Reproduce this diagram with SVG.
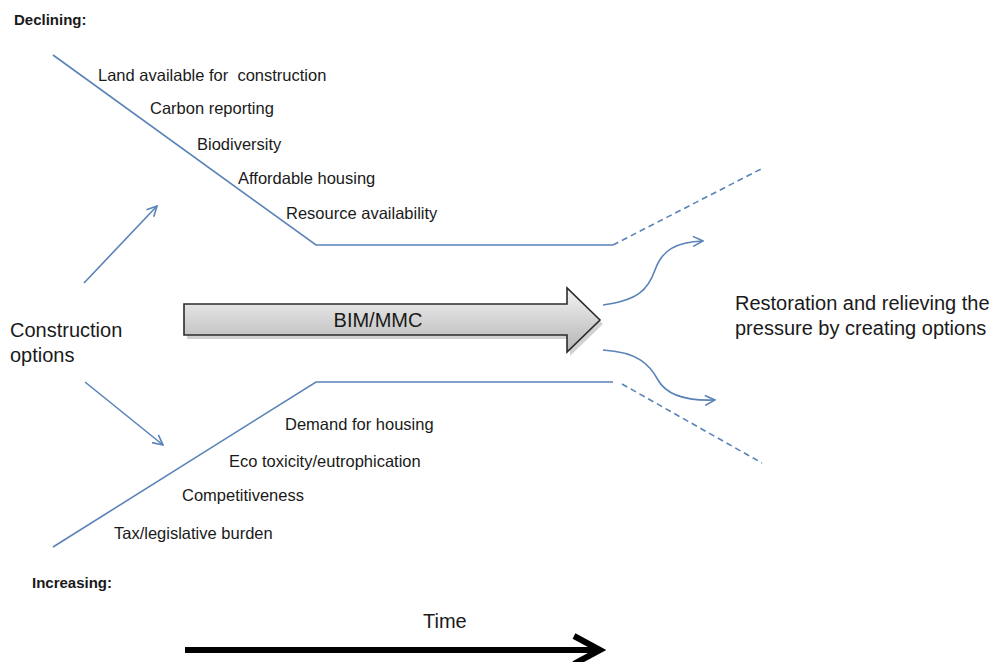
<svg xmlns="http://www.w3.org/2000/svg" width="994" height="662" viewBox="0 0 994 662">
<defs>
<style>
.t{font-family:"Liberation Sans",Arial,sans-serif;fill:#1a1a1a}
.s{font-size:16.5px}
.b{font-size:15px;font-weight:bold}
.l{font-size:20px}
.ln{fill:none;stroke:#5a83b8;stroke-width:1.6}
.dash{stroke-dasharray:6 4}
</style>
<linearGradient id="g" x1="0" y1="0" x2="0" y2="1">
<stop offset="0" stop-color="#f4f4f4"/>
<stop offset="1" stop-color="#b4b4b4"/>
</linearGradient>
<marker id="oa" viewBox="0 0 12 12" refX="11" refY="6" markerWidth="12" markerHeight="12" markerUnits="userSpaceOnUse" orient="auto">
<path d="M1,1 L11,6 L1,11" fill="none" stroke="#5a83b8" stroke-width="1.6"/>
</marker>
</defs>
<rect width="994" height="662" fill="#ffffff"/>

<g id="declining">
<text class="t b" x="14" y="25">Declining:</text>
</g>
<g id="increasing">
<text class="t b" x="32" y="588">Increasing:</text>
</g>

<g id="decline-labels">
<text class="t s" x="98" y="81" xml:space="preserve">Land available for  construction</text>
<text class="t s" x="150" y="114">Carbon reporting</text>
<text class="t s" x="197" y="150">Biodiversity</text>
<text class="t s" x="238" y="184">Affordable housing</text>
<text class="t s" x="286" y="219">Resource availability</text>
</g>

<g id="increase-labels">
<text class="t s" x="285" y="430">Demand for housing</text>
<text class="t s" x="229" y="467">Eco toxicity/eutrophication</text>
<text class="t s" x="182" y="501">Competitiveness</text>
<text class="t s" x="114" y="539">Tax/legislative burden</text>
</g>

<g id="construction-options">
<text class="t l" x="10" y="337">Construction</text>
<text class="t l" x="10" y="362">options</text>
</g>

<g id="restoration">
<text class="t l" x="735" y="310">Restoration and relieving the</text>
<text class="t l" x="735" y="335">pressure by creating options</text>
</g>

<g id="bim-mmc">
<polygon points="187,308 570,308 570,292 603,324 570,356 570,339 187,339" fill="#9a9a9a" opacity="0.45"/>
<polygon points="184,304 567,304 567,288 600,320 567,352 567,335 184,335" fill="url(#g)" stroke="#2b2b2b" stroke-width="1.6" stroke-linejoin="miter"/>
<text class="t l" x="378" y="327" text-anchor="middle">BIM/MMC</text>
</g>

<g id="time">
<text class="t l" x="423" y="628">Time</text>
<line x1="185" y1="650" x2="598" y2="650" stroke="#000" stroke-width="6"/>
<polyline points="574,636 600,650 574,664" fill="none" stroke="#000" stroke-width="6" stroke-linejoin="miter"/>
</g>

<g id="connectors">
<polyline class="ln" points="53,55 316,245 613,245"/>
<line class="ln dash" x1="613" y1="245" x2="761" y2="169"/>
<polyline class="ln" points="53,547 316,382 613,382"/>
<line class="ln dash" x1="622" y1="384" x2="762" y2="463"/>
<line class="ln" x1="84" y1="283" x2="157" y2="206" marker-end="url(#oa)"/>
<line class="ln" x1="85" y1="382" x2="163" y2="445" marker-end="url(#oa)"/>
<path class="ln" d="M603,305 C638,300 648,290 655,270 C662,250 676,242 703,241" marker-end="url(#oa)"/>
<path class="ln" d="M603,350 C638,352 650,365 658,380 C667,396 690,401 715,400" marker-end="url(#oa)"/>
</g>
</svg>
